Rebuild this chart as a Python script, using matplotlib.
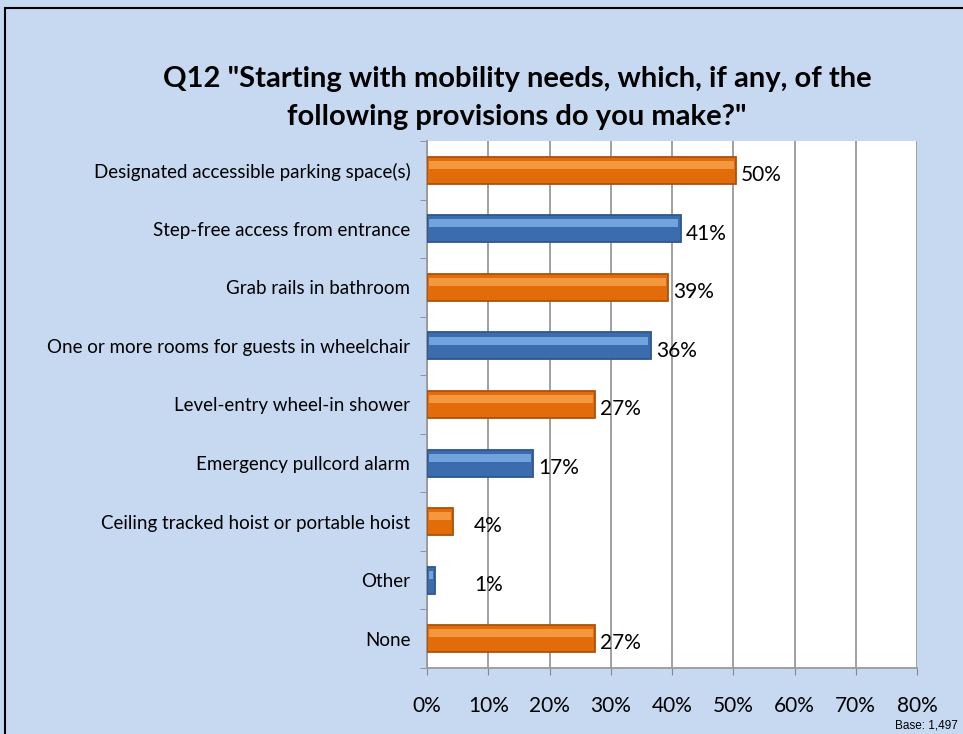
import numpy as np
import matplotlib.pyplot as plt
from matplotlib.patches import Rectangle

# Data
categories = ["Designated accessible parking space(s)", "Step-free access from entrance",
              "Grab rails in bathroom", "One or more rooms for guests in wheelchair",
              "Level-entry wheel-in shower", "Emergency pullcord alarm",
              "Ceiling tracked hoist or portable hoist", "Other", "None"]
values = [50.4, 41.4, 39.3, 36.5, 27.4, 17.3, 4.3, 1.3, 27.4]
x_ticks = [0, 10, 20, 30, 40, 50, 60, 70, 80]

plt.rcParams['font.family'] = ['Lato', 'DejaVu Sans']

bg = '#C6D9F1'
fig = plt.figure(figsize=(9.63, 7.34), dpi=100, facecolor=bg)
ax = fig.add_axes([427 / 963, 1 - 668 / 734, 490 / 963, 527 / 734])

y = np.arange(len(categories))
main_cols = ['#E36C0A' if i % 2 == 0 else '#3B6DAE' for i in y]
light_cols = ['#F8A04A' if i % 2 == 0 else '#7BAEE6' for i in y]
edge_cols = ['#A9530C' if i % 2 == 0 else '#2D568C' for i in y]

h = 0.46
ax.barh(y, values, height=h, color=main_cols, edgecolor=edge_cols, linewidth=1.3, zorder=3)
# highlight stripe to mimic the bevel
ax.barh(y - h * 0.2, np.array(values) - 0.7, left=0.35, height=h * 0.3,
        color=light_cols, linewidth=0, alpha=0.85, zorder=4)

for yi, v in zip(y, values):
    ax.text(max(v, 6.8) + 0.9, yi + 0.08, f"{round(v):.0f}%", va='center', ha='left',
            fontsize=15, zorder=5)

ax.set_xlim(0, 80)
ax.set_ylim(len(categories) - 0.5, -0.5)
ax.set_xticks(x_ticks)
ax.set_xticklabels([f"{t}%" for t in x_ticks], fontsize=15)
ax.set_yticks(y)
ax.set_yticklabels(categories, fontsize=13.5)
ax.set_yticks(np.arange(len(categories) + 1) - 0.5, minor=True)
ax.tick_params(axis='y', which='major', length=0, pad=12)
ax.tick_params(axis='y', which='minor', length=5, color='#888888', direction='out')
ax.tick_params(axis='x', length=5, color='#888888', pad=15)
ax.grid(axis='x', color='#999999', linewidth=1.3, zorder=0)
ax.set_axisbelow(True)
for s in ['top', 'right']:
    ax.spines[s].set_visible(False)
for s in ['left', 'bottom']:
    ax.spines[s].set_color('#999999')
    ax.spines[s].set_linewidth(1.3)

fig.text(0.537, 1 - 98 / 734, 'Q12 "Starting with mobility needs, which, if any, of the\nfollowing provisions do you make?"',
         ha='center', va='center', fontsize=21, fontweight='bold', linespacing=1.55)
fig.text(958 / 963, 1 - 726 / 734, "Base: 1,497", ha='right', va='center', fontsize=8.5,
         family='Liberation Sans')

fig.patches.append(Rectangle((5 / 963, -0.1), 1.1, 1.1 - 8 / 734, transform=fig.transFigure,
                             fill=False, edgecolor='black', linewidth=1.5, clip_on=False))

plt.savefig('out.png', dpi=100, facecolor=bg)
